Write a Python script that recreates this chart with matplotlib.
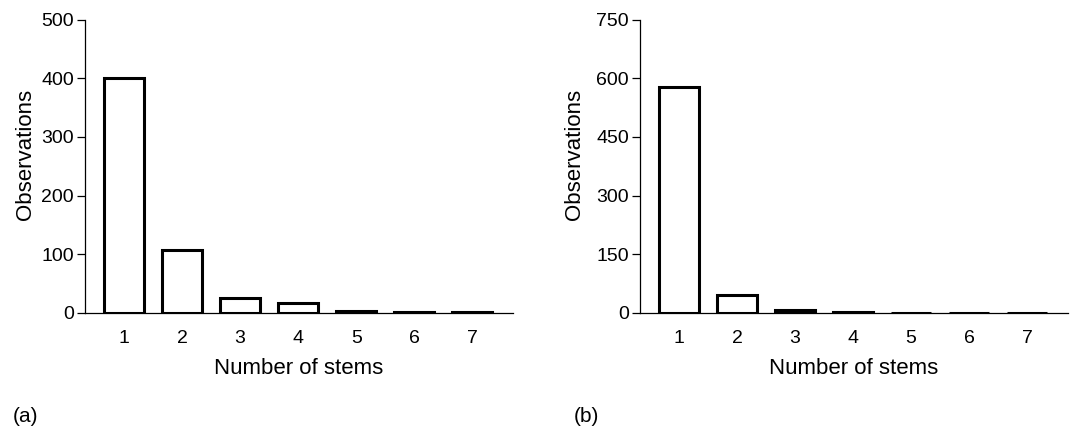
import matplotlib.pyplot as plt

plt.rcParams['font.family'] = ['Liberation Sans', 'DejaVu Sans']

stems = [1, 2, 3, 4, 5, 6, 7]
obs_a = [400, 107, 25, 17, 4, 1, 1]
obs_b = [578, 45, 8, 2, 1, 1, 1]

fig = plt.figure(figsize=(10.82, 4.32), dpi=100)
ax1 = fig.add_axes([0.0786, 0.2755, 0.3955, 0.679])
ax2 = fig.add_axes([0.5915, 0.2755, 0.3955, 0.679])


def draw(ax, values, ymax, yticks, ylab_x):
    ax.bar(stems, values, width=0.69, color='white', edgecolor='black',
           linewidth=2.2, zorder=3)
    ax.set_xlim(0.33, 7.7)
    ax.set_ylim(0, ymax)
    ax.set_yticks(yticks)
    ax.set_xticks(stems)
    ax.tick_params(axis='x', length=0, labelsize=14, pad=12)
    ax.tick_params(axis='y', length=6, width=0.9, labelsize=14, pad=2)
    ax.spines['top'].set_visible(False)
    ax.spines['right'].set_visible(False)
    ax.spines['left'].set_linewidth(0.9)
    ax.spines['bottom'].set_linewidth(0.9)
    ax.set_xlabel('Number of stems', fontsize=16, labelpad=8)
    ax.set_ylabel('Observations', fontsize=16)
    ax.yaxis.set_label_coords(ylab_x, 0.54)


draw(ax1, obs_a, 500, [0, 100, 200, 300, 400, 500], -0.115)
draw(ax2, obs_b, 750, [0, 150, 300, 450, 600, 750], -0.128)

fig.text(0.012, 0.022, '(a)', fontsize=15)
fig.text(0.530, 0.022, '(b)', fontsize=15)

fig.savefig('out.png', dpi=100)
